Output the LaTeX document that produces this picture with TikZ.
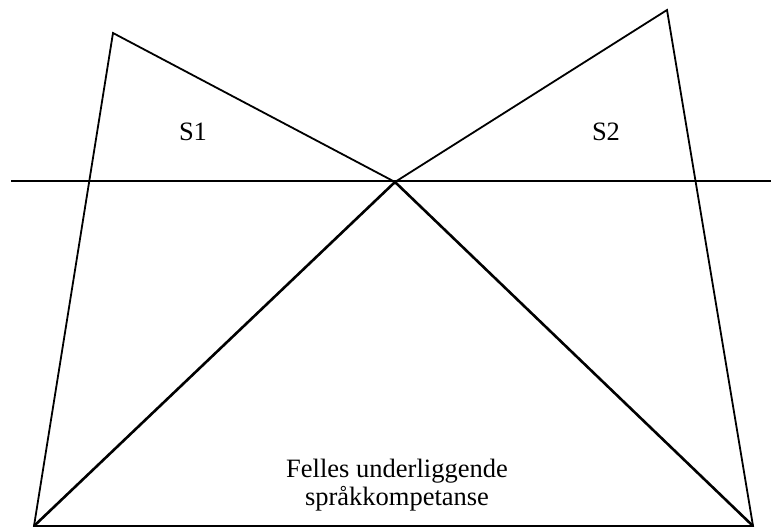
\documentclass[tikz,border=0pt]{standalone}
\usepackage{fontspec}
\setmainfont{Liberation Serif}
\begin{document}
\begin{tikzpicture}[x=1pt,y=-1pt,
  edge/.style={line width=1.8pt, line join=miter},
  heavy edge/.style={line width=2.6pt},
  lbl/.style={font=\fontsize{26.5}{28}\selectfont, align=center, inner sep=0pt}]
\useasboundingbox (0,0) rectangle (771,531);
% corner points of the two overlapping triangles
\coordinate (lt) at (113,33);
\coordinate (rt) at (667,10);
\coordinate (c) at (395,182);
\coordinate (bl) at (34,526);
\coordinate (br) at (753,526);
\coordinate (hl) at (11,181);
\coordinate (hr) at (771,181);
% outline
\draw[edge] (bl) -- (lt) -- (c) -- (rt) -- (br) -- cycle;
% surface line
\draw[edge] (hl) -- (hr);
% shared base triangle
\draw[heavy edge] (bl) -- (c) -- (br);
% labels
\node[lbl] (s1) at (193,132) {S1};
\node[lbl] (s2) at (606,132) {S2};
\node[lbl] (cup) at (397,485) {Felles underliggende\\språkkompetanse};
\end{tikzpicture}
\end{document}
